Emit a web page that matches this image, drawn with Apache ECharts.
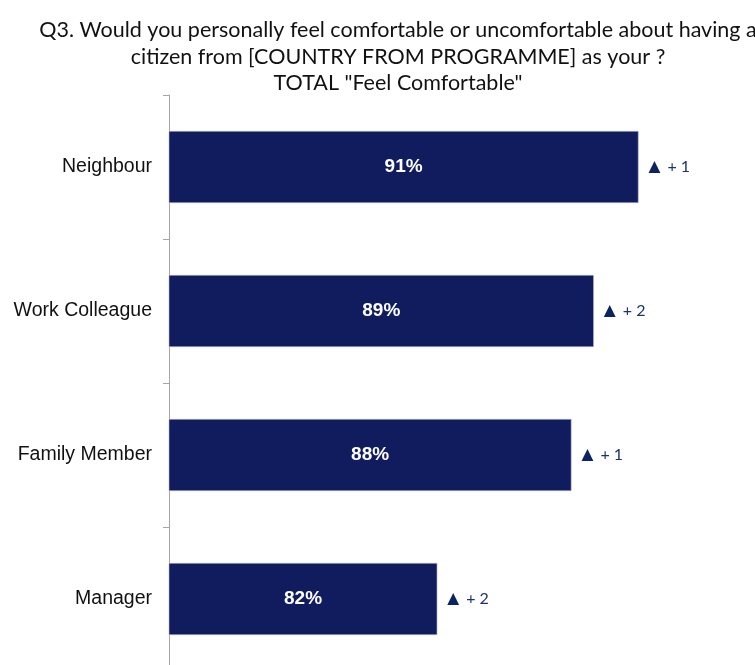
<!DOCTYPE html>
<html>
<head>
<meta charset="utf-8">
<script src="https://cdn.jsdelivr.net/npm/echarts@6/dist/echarts.min.js"></script>
<style>
  html, body { margin: 0; padding: 0; background: #ffffff; }
  #chart { width: 755px; height: 665px; }
</style>
</head>
<body>
<div id="chart"></div>
<script>
// Share of respondents who would feel comfortable, by relationship
const categories = ['Neighbour', 'Work Colleague', 'Family Member', 'Manager'];
const comfortable = [91, 89, 88, 82];
// Change in points versus the previous wave
const changes = [1, 2, 1, 2];

const titleLines = [
  'Q3. Would you personally feel comfortable or uncomfortable about having a',
  'citizen from [COUNTRY FROM PROGRAMME] as your ?',
  'TOTAL "Feel Comfortable"'
];

const navy = '#111c5f';

const chart = echarts.init(document.getElementById('chart'), null, { renderer: 'canvas' });

chart.setOption({
  animation: false,
  backgroundColor: '#ffffff',
  title: {
    text: titleLines.join('\n'),
    left: 393,
    textAlign: 'center',
    top: 12,
    textStyle: {
      fontFamily: 'Lato',
      fontWeight: 'normal',
      fontSize: 21.5,
      lineHeight: 26.5,
      color: '#111111'
    }
  },
  grid: {
    left: 169,
    width: 559,
    top: 95,
    height: 576,
    containLabel: false,
    outerBoundsMode: 'none'
  },
  xAxis: {
    type: 'value',
    min: 70,
    max: 95,
    show: false
  },
  yAxis: {
    type: 'category',
    data: categories,
    inverse: true,
    axisLine: { show: true, lineStyle: { color: '#a6a6a6', width: 1 } },
    axisTick: { show: true, length: 6, lineStyle: { color: '#a6a6a6' } },
    axisLabel: {
      margin: 17,
      fontFamily: 'Liberation Sans',
      fontSize: 19.5,
      color: '#111111'
    },
    splitLine: { show: false }
  },
  series: [
    {
      type: 'bar',
      data: comfortable,
      barWidth: '50%',
      itemStyle: { color: navy, borderColor: '#b9bdd0', borderWidth: 0.6 },
      label: {
        show: true,
        position: 'inside',
        formatter: p => p.value + '%',
        fontFamily: 'Liberation Sans',
        fontWeight: 'bold',
        fontSize: 19,
        color: '#ffffff'
      },
      z: 2
    },
    {
      type: 'bar',
      data: comfortable,
      barWidth: '50%',
      barGap: '-100%',
      itemStyle: { color: 'rgba(0,0,0,0)' },
      silent: true,
      label: {
        show: true,
        position: 'right',
        distance: 10,
        formatter: p => '{tri|▲}{txt|+ ' + changes[p.dataIndex] + '}',
        rich: {
          tri: { fontFamily: 'DejaVu Sans', fontSize: 15.5, color: '#0b2461' },
          txt: { fontFamily: 'Lato', fontSize: 16, color: '#1a3370', padding: [0, 0, 0, 7] }
        }
      },
      z: 3
    }
  ]
});
</script>
</body>
</html>
